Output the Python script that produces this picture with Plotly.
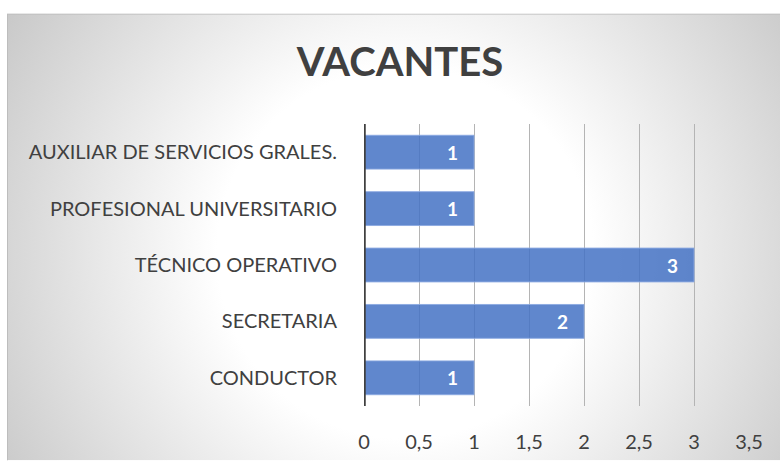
import base64
import plotly.graph_objects as go

categories = ["CONDUCTOR", "SECRETARIA", "TÉCNICO OPERATIVO",
              "PROFESIONAL UNIVERSITARIO", "AUXILIAR DE SERVICIOS GRALES."]
values = [1, 2, 3, 1, 1]
tick_vals = [0, 0.5, 1, 1.5, 2, 2.5, 3, 3.5]
tick_text = ["0", "0,5", "1", "1,5", "2", "2,5", "3", "3,5"]
title_text = "VACANTES"

W, H = 780, 465
ML, MR, MT, MB = 364, 31, 124, 55
PW, PH = W - ML - MR, H - MT - MB

# background panel (radial gradient + border) as an SVG image
bx0, by0 = 7, 12
bw, bh = W - bx0, H - by0
svg = f'''<svg xmlns="http://www.w3.org/2000/svg" width="{bw}" height="{bh}" viewBox="0 0 {bw} {bh}">
<defs><radialGradient id="g" gradientUnits="userSpaceOnUse" cx="{405-bx0}" cy="{255-by0}" r="470">
<stop offset="0" stop-color="#ffffff"/><stop offset="0.4" stop-color="#ffffff"/>
<stop offset="1" stop-color="#c8c8c8"/></radialGradient></defs>
<rect x="0" y="0" width="{bw}" height="{bh}" fill="url(#g)"/>
<rect x="0.5" y="0.5" width="{bw+5}" height="{bh+5}" fill="none" stroke="#bdbdbd" stroke-width="1"/>
</svg>'''
src = "data:image/svg+xml;base64," + base64.b64encode(svg.encode()).decode()

fig = go.Figure(go.Bar(
    y=categories, x=values, orientation="h",
    marker=dict(color="rgba(68,114,196,0.85)", line=dict(color="rgba(140,170,225,0.9)", width=1)),
    width=0.6, hoverinfo="x+y",
))

for c, v in zip(categories, values):
    fig.add_annotation(x=v, y=c, xref="x", yref="y", text=f"<b>{v}</b>",
                       showarrow=False, xanchor="center", yanchor="middle",
                       xshift=-22, font=dict(family="Lato", size=19, color="white"))

fig.update_layout(
    width=W, height=H,
    margin=dict(l=ML, r=MR, t=MT, b=MB, pad=0),
    paper_bgcolor="white", plot_bgcolor="rgba(0,0,0,0)",
    showlegend=False,
    font=dict(family="Lato", color="#404040"),
    title=dict(text=f"<b>{title_text}</b>", x=400 / W, xanchor="center",
               y=1 - 62 / H, yanchor="middle",
               font=dict(family="Lato", size=40, color="#404040")),
    images=[dict(source=src, xref="paper", yref="paper",
                 x=(bx0 - ML) / PW, y=(H - MB - by0) / PH,
                 sizex=bw / PW, sizey=bh / PH, sizing="stretch",
                 xanchor="left", yanchor="top", layer="below")],
    xaxis=dict(range=[0, 3.5], tickvals=tick_vals, ticktext=tick_text,
               showgrid=True, gridcolor="#b4b4b4", gridwidth=1.3,
               zeroline=False, showline=False,
               ticks="outside", ticklen=18, tickcolor="rgba(0,0,0,0)",
               tickfont=dict(family="Lato", size=20, color="#404040")),
    yaxis=dict(showgrid=False, zeroline=False, showline=False,
               ticks="outside", ticklen=22, tickcolor="rgba(0,0,0,0)",
               tickfont=dict(family="Lato", size=20, color="#404040")),
    bargap=0.4,
)

# vertical axis line at x=0
fig.add_shape(type="line", xref="x", yref="paper", x0=0, x1=0, y0=0, y1=1,
              line=dict(color="#404040", width=3.5))

fig.write_html("out.html", config={"displayModeBar": False},
               post_script="document.body.style.margin='0';")
